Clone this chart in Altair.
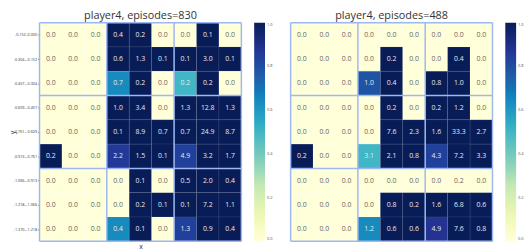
import altair as alt
import pandas as pd

row_labels = ["-0.152–0.000", "-0.304–-0.152", "-0.457–-0.304", "-0.609–-0.457",
              "-0.761–-0.609", "-0.913–-0.761", "-1.066–-0.913", "-1.218–-1.066",
              "-1.370–-1.218"]

left_title = "player4, episodes=830"
left_vals = [
    [0.0, 0.0, 0.0, 0.4, 0.2, 0.0, 0.0, 0.1, 0.0],
    [0.0, 0.0, 0.0, 0.6, 1.3, 0.1, 0.1, 3.0, 0.1],
    [0.0, 0.0, 0.0, 0.7, 0.2, 0.0, 0.2, 0.2, 0.0],
    [0.0, 0.0, 0.0, 1.0, 3.4, 0.0, 1.3, 12.8, 1.3],
    [0.0, 0.0, 0.0, 0.1, 8.9, 0.7, 0.7, 24.9, 8.7],
    [0.2, 0.0, 0.0, 2.2, 1.5, 0.1, 4.9, 3.2, 1.7],
    [0.0, 0.0, 0.0, 0.0, 0.1, 0.0, 0.5, 2.0, 0.4],
    [0.0, 0.0, 0.0, 0.0, 0.2, 0.1, 0.1, 7.2, 1.1],
    [0.0, 0.0, 0.0, 0.4, 0.1, 0.0, 1.3, 0.9, 0.4],
]
left_color = [
    [0, 0, 0, 1, 1, 0, 0, 1, 0],
    [0, 0, 0, 1, 1, 1, 1, 1, 1],
    [0, 0, 0, 0.64, 1, 0, 0.5, 1, 0],
    [0, 0, 0, 1, 1, 0, 1, 1, 1],
    [0, 0, 0, 1, 1, 1, 1, 1, 1],
    [1, 0, 0, 0.86, 1, 1, 0.84, 1, 1],
    [0, 0, 0, 0, 1, 0, 1, 1, 1],
    [0, 0, 0, 0, 1, 1, 1, 1, 1],
    [0, 0, 0, 0.64, 1, 0, 0.84, 1, 1],
]

right_title = "player4, episodes=488"
right_vals = [
    [0.0, 0.0, 0.0, 0.0, 0.0, 0.0, 0.0, 0.0, 0.0],
    [0.0, 0.0, 0.0, 0.0, 0.2, 0.0, 0.0, 0.4, 0.0],
    [0.0, 0.0, 0.0, 1.0, 0.4, 0.0, 0.8, 1.0, 0.0],
    [0.0, 0.0, 0.0, 0.0, 0.2, 0.0, 0.2, 1.2, 0.0],
    [0.0, 0.0, 0.0, 0.0, 7.6, 2.3, 1.6, 33.3, 2.7],
    [0.2, 0.0, 0.0, 3.1, 2.1, 0.8, 4.3, 7.2, 3.3],
    [0.0, 0.0, 0.0, 0.0, 0.0, 0.0, 0.0, 0.2, 0.0],
    [0.0, 0.0, 0.0, 0.0, 0.8, 0.2, 1.6, 6.8, 0.6],
    [0.0, 0.0, 0.0, 1.2, 0.6, 0.6, 4.9, 7.6, 0.8],
]
right_color = [
    [0, 0, 0, 0, 0, 0, 0, 0, 0],
    [0, 0, 0, 0, 1, 0, 0, 1, 0],
    [0, 0, 0, 0.78, 1, 0, 1, 1, 0],
    [0, 0, 0, 0, 1, 0, 1, 1, 0],
    [0, 0, 0, 0, 1, 1, 1, 1, 1],
    [1, 0, 0, 0.5, 1, 1, 0.84, 1, 1],
    [0, 0, 0, 0, 0, 0, 0, 0, 0],
    [0, 0, 0, 0, 1, 1, 1, 1, 1],
    [0, 0, 0, 0.64, 1, 1, 0.88, 1, 1],
]

legend_ticks = [0.0, 0.2, 0.4, 0.6, 0.8, 1.0]
block_edges = [0, 3, 6, 9]
ylgnbu = ["#ffffd9", "#edf8b1", "#c7e9b4", "#7fcdbb", "#41b6c4",
          "#1d91c0", "#225ea8", "#253494", "#081d58"]
ylgnbu_stops = [i / 8 for i in range(9)]

W, H = 205, 222
FONT = "Open Sans"


def cells(vals, cols):
    recs = []
    for r in range(9):
        for c in range(9):
            recs.append(dict(x0=c, x1=c + 1, y0=r, y1=r + 1, xc=c + 0.5, yc=r + 0.5,
                             c=cols[r][c], label=f"{vals[r][c]:.1f}"))
    return pd.DataFrame(recs)


def edges():
    recs = []
    for e in block_edges:
        recs.append(dict(xa=e, xb=e, ya=0, yb=9))
        recs.append(dict(xa=0, xb=9, ya=e, yb=e))
    return pd.DataFrame(recs)


def panel(vals, cols, title, first):
    df = cells(vals, cols)
    xs = alt.Scale(domain=[0, 9], nice=False, zero=False)
    ys = alt.Scale(domain=[0, 9], nice=False, zero=False, reverse=True)
    if first:
        xaxis = alt.Axis(labels=False, ticks=False, domain=False, grid=False, title="x",
                         titleFontSize=7, titleFont=FONT, titleFontWeight="normal",
                         titlePadding=1, titleColor="#333")
        expr = "[" + ",".join(f"'{s}'" for s in row_labels) + "][floor(datum.value)]"
        yaxis = alt.Axis(values=[i + 0.5 for i in range(9)], labelExpr=expr, grid=False,
                         domain=False, tickSize=2, tickColor="#888", labelFontSize=3.8,
                         labelFont=FONT, labelColor="#333", labelPadding=1,
                         labelOverlap=False, labelBound=False, labelFlush=False,
                         title="y",
                         titleFontSize=7, titleFont=FONT, titleFontWeight="normal",
                         titlePadding=-2, titleColor="#333")
    else:
        xaxis = None
        yaxis = None

    base = alt.Chart(df)
    rect = base.mark_rect(stroke="white", strokeWidth=0.5, strokeOpacity=0.12).encode(
        x=alt.X("x0:Q", scale=xs, axis=xaxis),
        x2="x1:Q",
        y=alt.Y("y0:Q", scale=ys, axis=yaxis),
        y2="y1:Q",
        color=alt.Color("c:Q", scale=alt.Scale(domain=ylgnbu_stops, range=ylgnbu),
                        legend=alt.Legend(title=None, orient="right", direction="vertical",
                                          gradientLength=H, gradientThickness=11,
                                          gradientStrokeWidth=0, values=legend_ticks,
                                          format=".1f", labelFontSize=4, labelFont=FONT,
                                          labelColor="#555", labelOffset=2, offset=13)),
    )
    text = base.mark_text(fontSize=7, font=FONT).encode(
        x=alt.X("xc:Q", scale=xs, axis=xaxis),
        y=alt.Y("yc:Q", scale=ys, axis=yaxis),
        text="label:N",
        color=alt.condition(alt.datum.c > 0.3, alt.value("#e8e8e8"), alt.value("#666666")),
    )
    rules = alt.Chart(edges()).mark_rule(color="#9db8f2", strokeWidth=1.5).encode(
        x=alt.X("xa:Q", scale=xs, axis=xaxis), x2="xb:Q",
        y=alt.Y("ya:Q", scale=ys, axis=yaxis), y2="yb:Q",
    )
    return alt.layer(rect, text, rules).properties(
        width=W, height=H,
        title=alt.TitleParams(title, fontSize=11, font=FONT, fontWeight="normal",
                              color="#333", offset=1),
    )


chart = alt.hconcat(
    panel(left_vals, left_color, left_title, True),
    panel(right_vals, right_color, right_title, False),
    spacing=17,
).resolve_scale(color="independent").properties(padding=0).configure_view(strokeWidth=0)

chart.save("out.html", embed_options={"renderer": "svg", "actions": False})
